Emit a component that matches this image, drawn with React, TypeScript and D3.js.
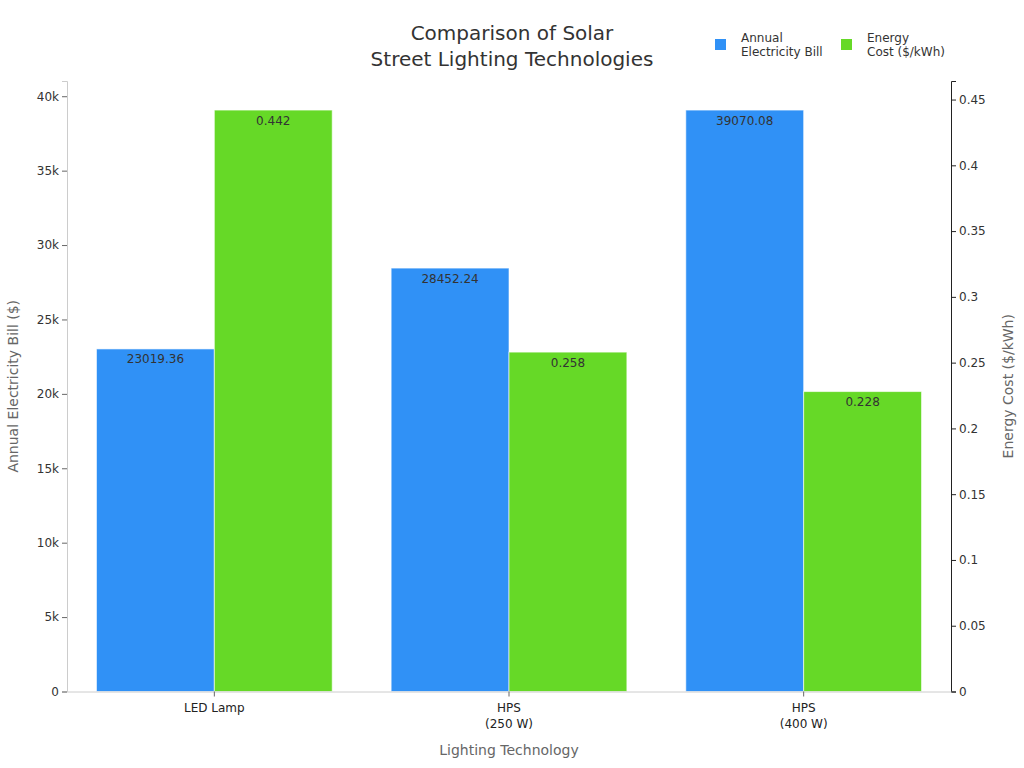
import React, { useEffect, useRef } from 'react';
import * as d3 from 'd3';

const categories = ['LED Lamp', 'HPS\n(250 W)', 'HPS\n(400 W)'];
const billValues = [23019.36, 28452.24, 39070.08];
const costValues = [0.442, 0.258, 0.228];
const billTicks = [0, 5000, 10000, 15000, 20000, 25000, 30000, 35000, 40000];
const costTicks = [0, 0.05, 0.1, 0.15, 0.2, 0.25, 0.3, 0.35, 0.4, 0.45];
const seriesNames = [['Annual', 'Electricity Bill'], ['Energy', 'Cost ($/kWh)']];

const BLUE = '#3091f6';
const GREEN = '#66d927';
const FONT = '"DejaVu Sans", Verdana, sans-serif';

const App: React.FC = () => {
  const chartRef = useRef<SVGSVGElement | null>(null);

  useEffect(() => {
    const svg = d3.select(chartRef.current);
    svg.selectAll('*').remove();

    const width = 1024;
    const height = 768;
    const margin = { top: 81, right: 73, bottom: 76.5, left: 67 };
    const plotBottom = height - margin.bottom;
    const plotRight = width - margin.right;

    svg.attr('width', width).attr('height', height).style('font-family', FONT);

    const x = d3
      .scaleBand<string>()
      .domain(categories)
      .range([margin.left, plotRight])
      .paddingInner(0)
      .paddingOuter(0);

    const yLeft = d3
      .scaleLinear()
      .domain([0, (d3.max(billValues) || 0) * 1.05])
      .range([plotBottom, margin.top]);

    const yRight = d3
      .scaleLinear()
      .domain([0, (d3.max(costValues) || 0) * 1.05])
      .range([plotBottom, margin.top]);

    const groupWidth = x.bandwidth() * 0.8;
    const barW = groupWidth / 2;

    // Bars
    const groups = svg
      .append('g')
      .selectAll('g')
      .data(categories)
      .enter()
      .append('g')
      .attr('transform', (d) => `translate(${x(d)! + (x.bandwidth() - groupWidth) / 2},0)`);

    groups
      .append('rect')
      .attr('x', 0)
      .attr('y', (_, i) => yLeft(billValues[i]))
      .attr('width', barW)
      .attr('height', (_, i) => plotBottom - yLeft(billValues[i]))
      .attr('fill', BLUE)
      .attr('stroke', '#ffffff')
      .attr('stroke-width', 1)
      .attr('stroke-opacity', 0.6);

    groups
      .append('rect')
      .attr('x', barW)
      .attr('y', (_, i) => yRight(costValues[i]))
      .attr('width', barW)
      .attr('height', (_, i) => plotBottom - yRight(costValues[i]))
      .attr('fill', GREEN)
      .attr('stroke', '#ffffff')
      .attr('stroke-width', 1)
      .attr('stroke-opacity', 0.6);

    // Value labels
    groups
      .append('text')
      .attr('x', barW / 2)
      .attr('y', (_, i) => yLeft(billValues[i]) + 14.5)
      .attr('text-anchor', 'middle')
      .attr('font-size', 12)
      .attr('fill', '#333')
      .text((_, i) => String(billValues[i]));

    groups
      .append('text')
      .attr('x', barW * 1.5)
      .attr('y', (_, i) => yRight(costValues[i]) + 14.5)
      .attr('text-anchor', 'middle')
      .attr('font-size', 12)
      .attr('fill', '#333')
      .text((_, i) => String(costValues[i]));

    // Left axis
    const leftAxis = svg
      .append('g')
      .attr('transform', `translate(${margin.left},0)`)
      .call(
        d3
          .axisLeft(yLeft)
          .tickValues(billTicks)
          .tickSize(5)
          .tickFormat((d) => (+d === 0 ? '0' : `${+d / 1000}k`))
      );
    leftAxis.select('.domain').attr('stroke', '#ccc');
    leftAxis.selectAll('.tick line').attr('stroke', '#666');
    leftAxis
      .selectAll('.tick text')
      .attr('font-size', 12)
      .attr('fill', '#333')
      .style('font-family', FONT);

    // Right axis
    const rightAxis = svg
      .append('g')
      .attr('transform', `translate(${plotRight},0)`)
      .call(d3.axisRight(yRight).tickValues(costTicks).tickSize(5).tickFormat((d) => String(+d)));
    rightAxis.select('.domain').attr('stroke', '#222');
    rightAxis.selectAll('.tick line').attr('stroke', '#222');
    rightAxis
      .selectAll('.tick text')
      .attr('font-size', 12)
      .attr('fill', '#333')
      .style('font-family', FONT);

    // Bottom axis
    const bottomAxis = svg
      .append('g')
      .attr('transform', `translate(0,${plotBottom})`)
      .call(d3.axisBottom(x).tickSize(5).tickSizeOuter(0).tickFormat(() => ''));
    bottomAxis.select('.domain').attr('stroke', '#ccc');
    bottomAxis.selectAll('.tick line').attr('stroke', '#666');
    bottomAxis
      .selectAll('.tick')
      .append('text')
      .attr('text-anchor', 'middle')
      .attr('font-size', 12)
      .attr('fill', '#222')
      .style('font-family', FONT)
      .each(function (d) {
        const lines = String(d).split('\n');
        lines.forEach((line, i) => {
          d3.select(this)
            .append('tspan')
            .attr('x', 0)
            .attr('y', 20.5 + i * 16)
            .text(line);
        });
      });

    // Axis titles
    svg
      .append('text')
      .attr('x', (margin.left + plotRight) / 2)
      .attr('y', 755)
      .attr('text-anchor', 'middle')
      .attr('font-size', 14)
      .attr('fill', '#666')
      .text('Lighting Technology');

    svg
      .append('text')
      .attr('transform', `translate(18,${(margin.top + plotBottom) / 2}) rotate(-90)`)
      .attr('text-anchor', 'middle')
      .attr('font-size', 14)
      .attr('fill', '#666')
      .text('Annual Electricity Bill ($)');

    svg
      .append('text')
      .attr('transform', `translate(1013,${(margin.top + plotBottom) / 2}) rotate(-90)`)
      .attr('text-anchor', 'middle')
      .attr('font-size', 14)
      .attr('fill', '#666')
      .text('Energy Cost ($/kWh)');

    // Title
    const title = svg
      .append('text')
      .attr('x', 512)
      .attr('text-anchor', 'middle')
      .attr('font-size', 20)
      .attr('fill', '#333');
    title.append('tspan').attr('x', 512).attr('y', 40).text('Comparison of Solar');
    title.append('tspan').attr('x', 512).attr('y', 66).text('Street Lighting Technologies');

    // Legend
    const legend = svg
      .append('g')
      .selectAll('g')
      .data(seriesNames)
      .enter()
      .append('g')
      .attr('transform', (_, i) => `translate(${715 + i * 126},39)`);
    legend
      .append('rect')
      .attr('width', 11)
      .attr('height', 11)
      .attr('fill', (_, i) => (i === 0 ? BLUE : GREEN));
    legend
      .append('text')
      .attr('font-size', 12)
      .attr('fill', '#333')
      .each(function (d) {
        d.forEach((line, i) => {
          d3.select(this)
            .append('tspan')
            .attr('x', 26)
            .attr('y', 3 + i * 14)
            .text(line);
        });
      });
  }, []);

  return (
    <svg
      ref={chartRef}
      style={{ position: 'absolute', left: 0, top: 0, background: '#fff' }}
    ></svg>
  );
};

export default App;
